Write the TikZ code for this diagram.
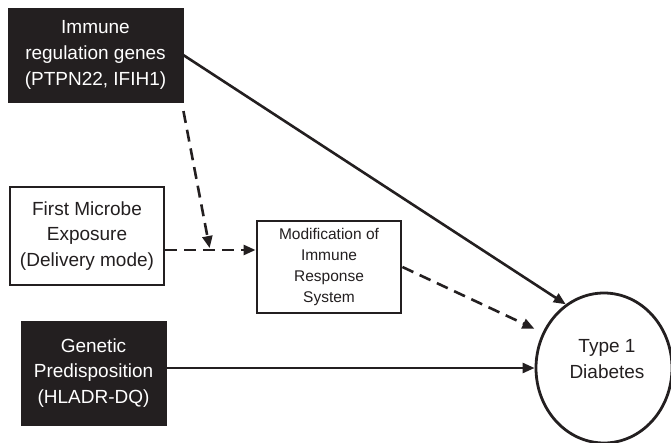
\documentclass[tikz,border=0pt]{standalone}
\usepackage{fontspec}
\setmainfont{Liberation Sans}
\usetikzlibrary{arrows.meta,shapes.geometric}
\definecolor{ink}{HTML}{231F20}
\begin{document}
\begin{tikzpicture}[x=1pt,y=-1pt,
  boxtext/.style={align=center, inner sep=0pt, font=\fontsize{19}{25.7}\selectfont},
  darkbox/.style={boxtext, fill=ink, draw=ink, line width=0.5pt, text=white},
  whitebox/.style={boxtext, fill=white, draw=ink, line width=2.9pt, text=ink},
  link/.style={draw=ink, line width=2.6pt, -{Triangle[length=12pt,width=10pt]}},
  dashlink/.style={link, dash pattern=on 12pt off 7pt}
]
\useasboundingbox (0,0) rectangle (671,443);
\clip (0,0) rectangle (671,443);

% factor boxes
\node[darkbox, minimum width=175pt, minimum height=94pt] (genes) at (95.5,55)
  {Immune\\regulation genes\\(PTPN22, IFIH1)};
\node[whitebox, minimum width=154pt, minimum height=98pt] (microbe) at (87,236)
  {First Microbe\\Exposure\\(Delivery mode)};
\node[whitebox, minimum width=144pt, minimum height=92pt,
      font=\fontsize{15.5}{20.7}\selectfont] (modif) at (329,267)
  {Modification of\\Immune\\Response\\System};
\node[darkbox, minimum width=145pt, minimum height=104pt] (genetic) at (93.5,373)
  {Genetic\\Predisposition\\(HLADR-DQ)};

% outcome
\node[ellipse, draw=ink, line width=2.8pt, minimum width=136pt, minimum height=150pt,
      inner sep=0pt] (t1d) at (604,368) {};
\node[boxtext, text=ink] (t1dlabel) at (607,359) {Type 1\\Diabetes};

% junction on the exposure path
\coordinate (join) at (210,250);

% connectors
\draw[link] (genes.east) -- (t1d.121);
\draw[dashlink, shorten <=9pt, shorten >=2pt] ([xshift=-1.5pt]genes.south east) -- (join);
\draw[dashlink] (join -| microbe.east) -- (join -| modif.west);
\draw[dashlink, shorten >=9pt] (modif.east) -- (t1d.150);
\draw[link] (genetic.east |- t1d.west) -- (t1d.west);
\end{tikzpicture}
\end{document}
